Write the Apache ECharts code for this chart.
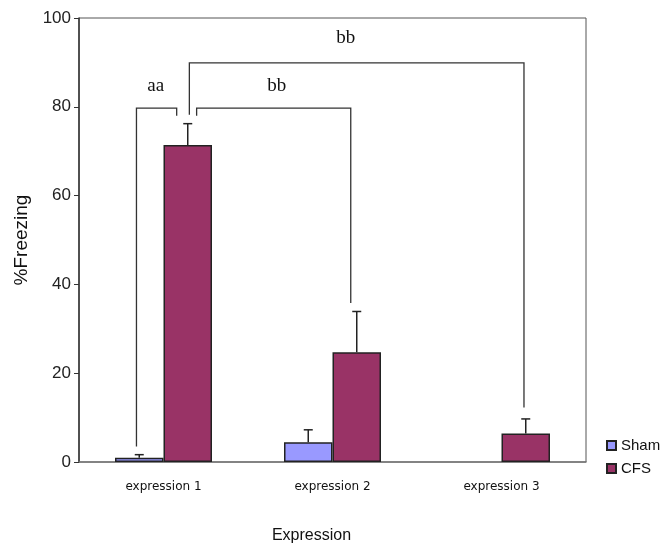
<!DOCTYPE html>
<html>
<head>
<meta charset="utf-8">
<script src="https://cdn.jsdelivr.net/npm/echarts@6/dist/echarts.min.js"></script>
<style>
  html, body { margin: 0; padding: 0; background: #fff; }
  #chart { width: 665px; height: 549px; }
</style>
</head>
<body>
<div id="chart"></div>
<script>
// Categories and values
const categories = ['expression 1', 'expression 2', 'expression 3'];
const shamMean = [0.95, 4.45, 0];
const shamErr = [0.7, 2.8, 0];
const cfsMean = [71.4, 24.7, 6.4];
const cfsErr = [4.8, 9.2, 3.3];
const yTicks = [0, 20, 40, 60, 80, 100];

// Significance brackets: points as [category, offset in band, value]
const brackets = [
    { label: 'aa', labelAt: [0, -0.046, 84.6],
      pts: [[0, -0.16, 3.5], [0, -0.16, 79.7], [0, 0.078, 79.7], [0, 0.078, 78.0]] },
    { label: 'bb', labelAt: [1, -0.33, 84.6],
      pts: [[0, 0.196, 78.0], [0, 0.196, 79.7], [1, 0.108, 79.7], [1, 0.108, 35.8]] },
    { label: 'bb', labelAt: [1, 0.078, 95.6],
      pts: [[0, 0.153, 78.2], [0, 0.153, 89.9], [2, 0.133, 89.9], [2, 0.133, 12.3]] }
];

const chart = echarts.init(document.getElementById('chart'), null, { renderer: 'canvas' });

const barW = 48.5;

// a zero mean draws no bar (Excel shows nothing there)
const asBar = arr => arr.map(v => (v === 0 ? '-' : v));

// Error bars drawn upward from the mean
function errorSeries(name, means, errs, side) {
    return {
        name: name + ' err',
        type: 'custom',
        z: 5,
        data: means.map((m, i) => [i, m, m + errs[i]]),
        encode: { x: 0, y: [1, 2] },
        renderItem: function (params, api) {
            if (api.value(2) <= api.value(1)) return null;
            const lo = api.coord([api.value(0), api.value(1)]);
            const hi = api.coord([api.value(0), api.value(2)]);
            const x = lo[0] + side * barW / 2;
            return {
                type: 'group',
                children: [
                    { type: 'line', shape: { x1: x, y1: lo[1], x2: x, y2: hi[1] },
                      style: { stroke: '#222', lineWidth: 1.5 } },
                    { type: 'line', shape: { x1: x - 4.5, y1: hi[1], x2: x + 4.5, y2: hi[1] },
                      style: { stroke: '#222', lineWidth: 1.5 } }
                ]
            };
        }
    };
}

const option = {
    animation: false,
    backgroundColor: '#fff',
    grid: {
        left: 79, right: 79, top: 18, bottom: 75,
        show: true, borderColor: '#555', borderWidth: 1
    },
    legend: {
        data: ['Sham', 'CFS'],
        orient: 'vertical',
        left: 601, top: 433,
        icon: 'rect',
        itemWidth: 9, itemHeight: 9, itemGap: 8,
        textStyle: { fontFamily: 'Liberation Sans', fontSize: 15, color: '#111' }
    },
    xAxis: {
        type: 'category',
        data: categories,
        name: 'Expression',
        nameLocation: 'middle',
        nameGap: 66,
        nameTextStyle: { fontFamily: 'Liberation Sans', fontSize: 16, color: '#111', padding: [0, 42, 0, 0] },
        axisLine: { lineStyle: { color: '#777', width: 1.5 } },
        axisTick: { show: false },
        axisLabel: { fontFamily: 'DejaVu Sans', fontSize: 12, color: '#111', margin: 19 },
        splitLine: { show: false }
    },
    yAxis: {
        type: 'value',
        min: yTicks[0], max: yTicks[yTicks.length - 1], interval: 20,
        name: '%Freezing',
        nameLocation: 'middle',
        nameRotate: 90,
        nameGap: 44,
        nameTextStyle: { fontFamily: 'Liberation Sans', fontSize: 19, color: '#111' },
        axisLine: { show: true, lineStyle: { color: '#333', width: 1.5 } },
        axisTick: { show: true, inside: false, length: 5, lineStyle: { color: '#333' } },
        axisLabel: { fontFamily: 'Liberation Sans', fontSize: 17, color: '#222', margin: 8 },
        splitLine: { show: false }
    },
    series: [
        {
            name: 'Sham', type: 'bar', data: asBar(shamMean),
            barWidth: barW, barGap: '0%',
            itemStyle: { color: '#9999ff', borderColor: '#222', borderWidth: 1.5 }
        },
        {
            name: 'CFS', type: 'bar', data: asBar(cfsMean),
            barWidth: barW, barGap: '0%',
            itemStyle: { color: '#993366', borderColor: '#222', borderWidth: 1.5 }
        },
        errorSeries('Sham', shamMean, shamErr, -1),
        errorSeries('CFS', cfsMean, cfsErr, 1),
        {
            name: 'brackets',
            type: 'custom',
            z: 6,
            clip: false,
            data: brackets.map((b, i) => [i]),
            encode: { x: 0 },
            renderItem: function (params, api) {
                const b = brackets[params.dataIndex];
                const band = api.size([1, 0])[0];
                const toPx = p => {
                    const c = api.coord([p[0], p[2]]);
                    return [c[0] + p[1] * band, c[1]];
                };
                const lp = toPx(b.labelAt);
                return {
                    type: 'group',
                    children: [
                        { type: 'polyline', shape: { points: b.pts.map(toPx) },
                          style: { stroke: '#333', lineWidth: 1.3, fill: null } },
                        { type: 'text', x: lp[0], y: lp[1],
                          style: { text: b.label, font: '19px "Liberation Serif"', fill: '#111',
                                   align: 'center', verticalAlign: 'middle' } }
                    ]
                };
            }
        }
    ]
};

chart.setOption(option);
</script>
</body>
</html>
